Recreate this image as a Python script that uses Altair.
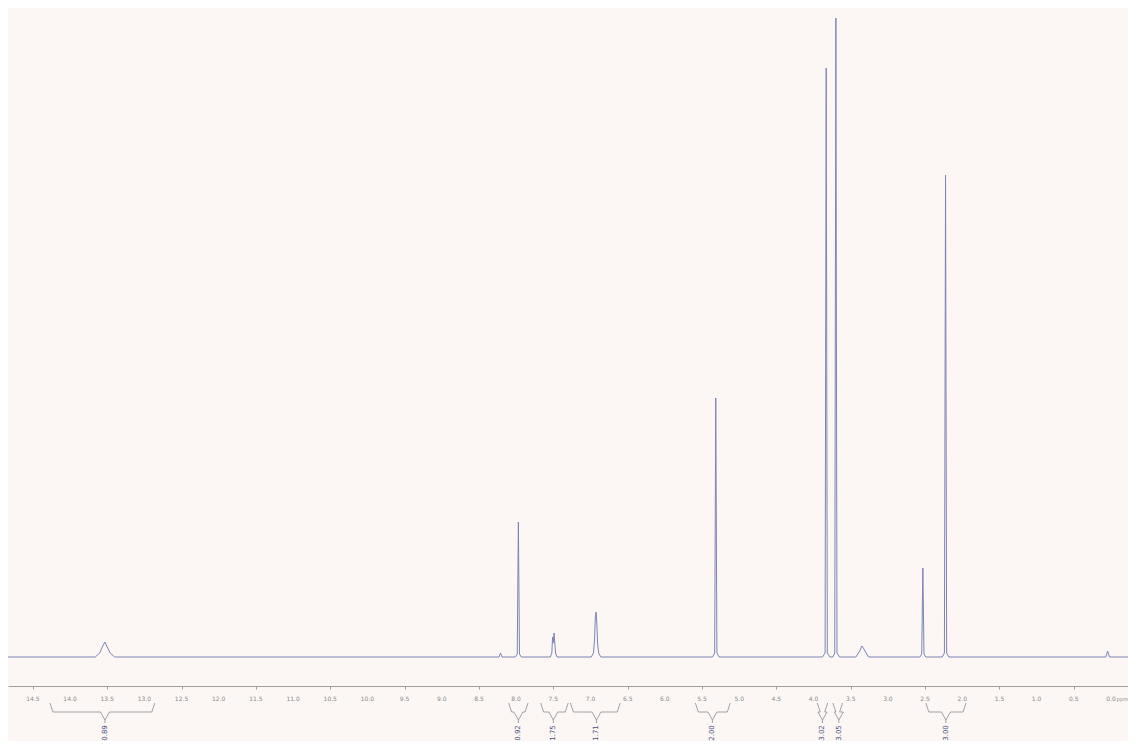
import altair as alt
import pandas as pd

# Spectrum points (chemical shift in ppm, intensity)
ppm = [14.834, 13.66, 13.60, 13.56, 13.53, 13.50, 13.46, 13.40,
       8.23, 8.21, 8.19,
       8.01, 7.985, 7.97, 7.955, 7.93,
       7.54, 7.52, 7.51, 7.50, 7.49, 7.47, 7.45,
       6.99, 6.96, 6.945, 6.935, 6.925, 6.915, 6.905, 6.89, 6.86,
       5.36, 5.33, 5.315, 5.30, 5.27,
       3.88, 3.845, 3.83, 3.815, 3.78,
       3.74, 3.715, 3.70, 3.685, 3.65,
       3.43, 3.38, 3.35, 3.33, 3.30, 3.26,
       2.57, 2.545, 2.53, 2.515, 2.49,
       2.27, 2.24, 2.225, 2.21, 2.18,
       0.07, 0.045, 0.02, -0.229]
intensity = [0, 0, 4, 11, 15, 10, 4, 0,
             0, 4, 0,
             0, 3, 135, 3, 0,
             0, 4, 20, 14, 24, 4, 0,
             0, 4, 18, 40, 45, 34, 14, 4, 0,
             0, 4, 259, 4, 0,
             0, 4, 589, 4, 0,
             0, 4, 639, 4, 0,
             0, 6, 11, 9, 5, 0,
             0, 3, 89, 3, 0,
             0, 4, 482, 4, 0,
             0, 6, 0, 0]

# Axis tick values and labels
tick_values = [14.5, 14.0, 13.5, 13.0, 12.5, 12.0, 11.5, 11.0, 10.5, 10.0,
               9.5, 9.0, 8.5, 8.0, 7.5, 7.0, 6.5, 6.0, 5.5, 5.0, 4.5,
               4.0, 3.5, 3.0, 2.5, 2.0, 1.5, 1.0, 0.5, 0.0]
tick_labels = [f"{v:.1f}" for v in tick_values]

# Integral regions: left edge, centre, right edge (ppm) and integral values
int_left = [14.27, 8.10, 7.67, 7.27, 5.59, 3.95, 3.74, 2.49]
int_center = [13.53, 7.97, 7.50, 6.92, 5.36, 3.88, 3.66, 2.22]
int_right = [12.86, 7.84, 7.30, 6.60, 5.12, 3.81, 3.61, 1.95]
int_labels = ["0.89", "0.92", "1.75", "1.71", "2.00", "3.02", "3.05", "3.00"]

spec = pd.DataFrame({"ppm": ppm, "I": intensity})

# Build bracket paths from the integral regions
rows = []
for i, (l, c, r) in enumerate(zip(int_left, int_center, int_right)):
    pts = [(l, -46), (l - 0.04, -55), (c + 0.06, -55), (c, -63), (c - 0.06, -55),
           (r + 0.04, -55), (r, -46)]
    for k, (x, y) in enumerate(pts):
        rows.append({"id": i, "k": k, "ppm": x, "I": y})
brackets = pd.DataFrame(rows)
stems = pd.DataFrame({"ppm": int_center, "y1": [-63] * len(int_center),
                      "y2": [-66] * len(int_center)})
labels = pd.DataFrame({"ppm": int_center, "txt": int_labels,
                       "I": [-76] * len(int_center)})
ticklab = pd.DataFrame({"ppm": tick_values, "txt": tick_labels,
                        "I": [-42] * len(tick_values)})
unit = pd.DataFrame({"ppm": [-0.229], "txt": ["ppm"], "I": [-42]})

xscale = alt.Scale(domain=[14.834, -0.229], nice=False, zero=False)
yscale = alt.Scale(domain=[-29, 649], nice=False, zero=False)
LINE = "#7d84b6"
GREY = "#8a8a8a"

line = alt.Chart(spec).mark_line(color=LINE, strokeWidth=1, clip=True).encode(
    x=alt.X("ppm:Q", scale=xscale,
            axis=alt.Axis(values=tick_values, labels=False, title=None,
                          domainColor="#a0a0a0", tickColor="#a0a0a0",
                          tickSize=3, grid=False)),
    y=alt.Y("I:Q", scale=yscale, axis=None),
)

br = alt.Chart(brackets).mark_line(color="#8a8a99", strokeWidth=0.8).encode(
    x=alt.X("ppm:Q", scale=xscale),
    y=alt.Y("I:Q", scale=yscale),
    detail="id:N",
    order="k:Q",
)

st = alt.Chart(stems).mark_rule(color="#8a8a99", strokeWidth=0.8).encode(
    x=alt.X("ppm:Q", scale=xscale),
    y=alt.Y("y1:Q", scale=yscale),
    y2="y2:Q",
)

tx = alt.Chart(labels).mark_text(angle=270, fontSize=7, color="#4a5080",
                                 font="DejaVu Sans", baseline="middle",
                                 align="center").encode(
    x=alt.X("ppm:Q", scale=xscale),
    y=alt.Y("I:Q", scale=yscale),
    text="txt:N",
)

tl = alt.Chart(ticklab).mark_text(fontSize=6, color=GREY, font="DejaVu Sans",
                                  baseline="middle", align="center").encode(
    x=alt.X("ppm:Q", scale=xscale),
    y=alt.Y("I:Q", scale=yscale),
    text="txt:N",
)

ul = alt.Chart(unit).mark_text(fontSize=5, color=GREY, font="DejaVu Sans",
                               baseline="middle", align="right").encode(
    x=alt.X("ppm:Q", scale=xscale),
    y=alt.Y("I:Q", scale=yscale),
    text="txt:N",
)

chart = alt.layer(line, br, st, tx, tl, ul).properties(
    width=1120, height=678, background="#fcf7f4",
    padding={"left": 0, "top": 0, "right": 0, "bottom": 0},
).configure_view(stroke=None)

chart.save("out.html", embed_options={"renderer": "svg", "actions": False})
